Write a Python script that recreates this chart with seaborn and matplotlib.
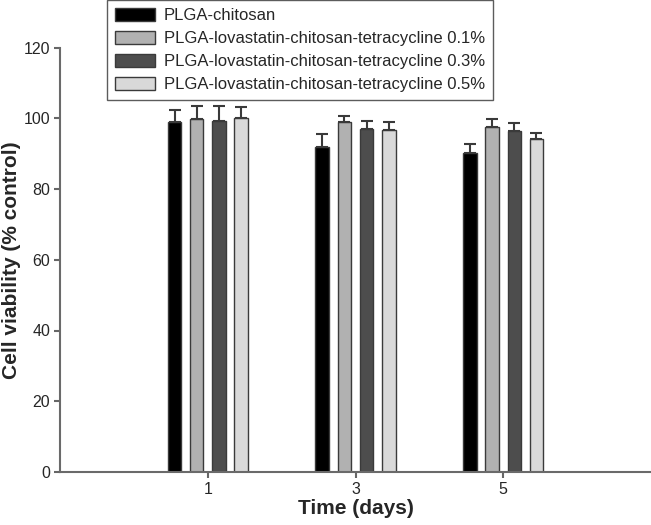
import numpy as np
import pandas as pd
import matplotlib
matplotlib.use('Agg')
import matplotlib.pyplot as plt
import seaborn as sns

# values
days = ['1', '3', '5']
groups = ['PLGA-chitosan',
          'PLGA-lovastatin-chitosan-tetracycline 0.1%',
          'PLGA-lovastatin-chitosan-tetracycline 0.3%',
          'PLGA-lovastatin-chitosan-tetracycline 0.5%']
viability = [
    [98.9, 92.0, 90.2],
    [99.9, 98.8, 97.4],
    [99.1, 97.0, 96.5],
    [100.1, 96.7, 94.1],
]
sd = [
    [3.3, 3.5, 2.4],
    [3.6, 1.7, 2.3],
    [4.3, 2.2, 2.2],
    [3.1, 2.1, 1.7],
]
colors = ['#000000', '#b1b1b1', '#4d4d4d', '#d9d9d9']

rows = []
for g, vals, errs in zip(groups, viability, sd):
    for d, v, e in zip(days, vals, errs):
        rows.append({'day': d, 'group': g, 'viability': v, 'sd': e})
df = pd.DataFrame(rows)

sns.set_style('ticks')
plt.rcParams['font.family'] = ['Liberation Sans', 'DejaVu Sans']

fig = plt.figure(figsize=(6.51, 5.25), dpi=100)
ax = fig.add_axes([60 / 651, (525 - 472) / 525, (651 - 60) / 651, (472 - 47.5) / 525])

sns.barplot(data=df, x='day', y='viability', hue='group', order=days,
            hue_order=groups, palette=colors, width=0.6, gap=0.39,
            errorbar=None, edgecolor='#3a3a3a', linewidth=1, ax=ax)

# upper error bars, placed on the bars seaborn drew
for container, g in zip(ax.containers, groups):
    sub = df[df['group'] == g].set_index('day').loc[days]
    xs = [p.get_x() + p.get_width() / 2 for p in container.patches]
    ax.errorbar(xs, sub['viability'], yerr=[np.zeros(len(xs)), sub['sd']],
                fmt='none', ecolor='#3a3a3a', elinewidth=1.5, capsize=4.3,
                capthick=1.5, zorder=1)

ax.set_xlim(-1, 3)
ax.set_ylim(0, 120)
ax.set_yticks(range(0, 121, 20))
ax.set_xlabel('Time (days)', fontsize=15, fontweight='bold', labelpad=2)
ax.set_ylabel('Cell viability (% control)', fontsize=15, fontweight='bold')
ax.yaxis.set_label_coords(-0.066, 0.5)
ax.tick_params(labelsize=11.5, color='#666666', width=1.5, length=4, pad=3)

for s in ['top', 'right']:
    ax.spines[s].set_visible(False)
for s in ['left', 'bottom']:
    ax.spines[s].set_color('#6a6a6a')
    ax.spines[s].set_linewidth(1.5)

leg = ax.legend(loc='upper left', bbox_to_anchor=(107 / 651, 1.0),
                bbox_transform=fig.transFigure, fontsize=12, frameon=True,
                fancybox=False, edgecolor='#333333', handlelength=2.4,
                handleheight=0.8, labelspacing=0.46, borderpad=0.5,
                handletextpad=0.5, borderaxespad=0)
leg.get_frame().set_linewidth(1)

fig.savefig('out.png', dpi=100)
